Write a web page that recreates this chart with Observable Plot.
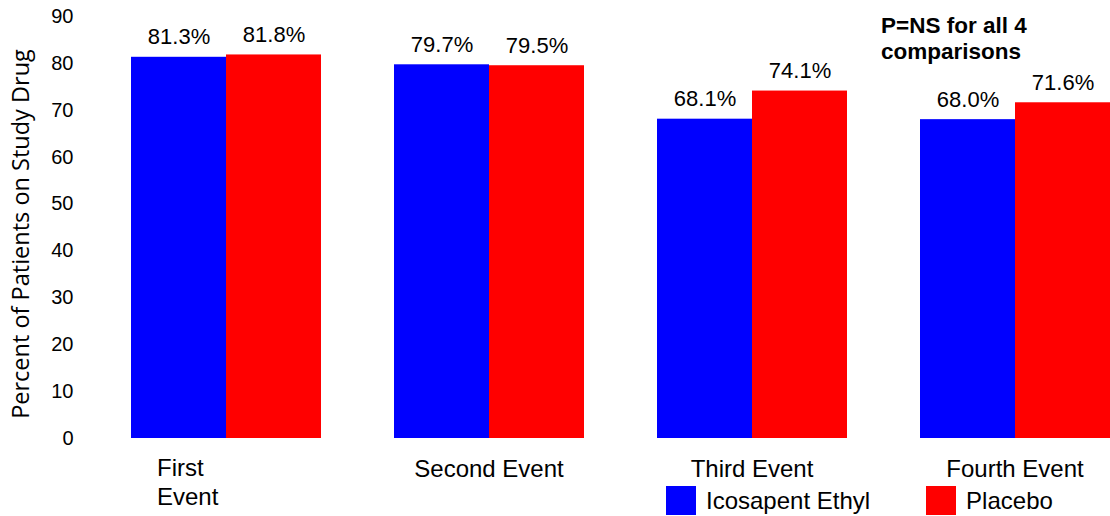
<!DOCTYPE html>
<html>
<head>
<meta charset="utf-8">
<script src="https://cdn.jsdelivr.net/npm/d3@7"></script>
<script src="https://cdn.jsdelivr.net/npm/@observablehq/plot@0.6"></script>
<style>
  html, body { margin: 0; padding: 0; background: #fff; }
  #wrap { position: relative; width: 1110px; height: 516px; font-family: "Liberation Sans", Arial, sans-serif; color: #000; }
  #note { position: absolute; left: 881px; top: 13px; font-size: 22.5px; font-weight: bold; line-height: 26px; }
  #ylabel { position: absolute; left: 20px; top: 234px; transform: translate(-50%, -50%) rotate(-90deg);
            white-space: nowrap; font-family: "Open Sans", "Noto Sans", sans-serif; font-size: 23.5px; }
  #legend { position: absolute; left: 666px; top: 486px; display: flex; align-items: center; font-size: 24px; }
  .sw { display: inline-block; width: 30px; height: 29px; margin-right: 10px; }
  .item { display: flex; align-items: center; }
</style>
</head>
<body>
<div id="wrap">
  <div id="chart"></div>
  <div id="ylabel">Percent of Patients on Study Drug</div>
  <div id="note">P=NS for all 4<br>comparisons</div>
  <div id="legend"></div>
</div>
<script>
// Event categories and their axis labels
const categories = ["First Event", "Second Event", "Third Event", "Fourth Event"];
const categoryLabels = ["First\nEvent", "Second Event", "Third Event", "Fourth Event"];

// Treatment arms
const seriesNames = ["Icosapent Ethyl", "Placebo"];
const seriesColors = ["#0000ff", "#ff0000"];

// Percent of patients on study drug, per event
const icosapentEthyl = [81.3, 79.7, 68.1, 68.0];
const placebo = [81.8, 79.5, 74.1, 71.6];

// Y-axis ticks
const yTicks = [0, 10, 20, 30, 40, 50, 60, 70, 80, 90];

const rows = categories.flatMap((c, i) => [
  {event: c, arm: seriesNames[0], value: icosapentEthyl[i]},
  {event: c, arm: seriesNames[1], value: placebo[i]}
]);
const labelRows = categories.map((c, i) => ({event: c, label: categoryLabels[i]}));

const chart = Plot.plot({
  width: 1110,
  height: 516,
  marginTop: 16,
  marginBottom: 78,
  marginLeft: 130,
  marginRight: 0,
  style: {fontFamily: "Liberation Sans, Arial, sans-serif", color: "#000", background: "#fff"},
  fx: {domain: categories, paddingInner: 0.275, paddingOuter: 0, axis: null},
  x: {domain: seriesNames, padding: 0, axis: null},
  y: {domain: [0, 90], axis: null},
  color: {domain: seriesNames, range: seriesColors},
  marks: [
    Plot.axisY({ticks: yTicks, tickSize: 0, tickPadding: 57, fontSize: 20, label: null}),
    Plot.barY(rows, {fx: "event", x: "arm", y: "value", fill: "arm"}),
    // value labels above each bar
    Plot.text(rows, {
      fx: "event", x: "arm", y: "value",
      text: d => d.value.toFixed(1) + "%",
      dy: -20, fontSize: 22, fill: "#000"
    }),
    // category labels below the bars
    Plot.text(labelRows.filter(d => !d.label.includes("\n")), {
      fx: "event", text: "label", frameAnchor: "bottom",
      lineAnchor: "top", dy: 21, fontSize: 24, fill: "#000"
    }),
    Plot.text(labelRows.filter(d => d.label.includes("\n")), {
      fx: "event", text: "label", frameAnchor: "bottom", textAnchor: "start",
      lineAnchor: "top", dy: 18, dx: -69, lineHeight: 1.17, fontSize: 24, fill: "#000"
    })
  ]
});
document.getElementById("chart").appendChild(chart);

// Legend
const legend = document.getElementById("legend");
seriesNames.forEach((name, i) => {
  const item = document.createElement("div");
  item.className = "item";
  if (i > 0) item.style.marginLeft = "56px";
  const sw = document.createElement("span");
  sw.className = "sw";
  sw.style.background = seriesColors[i];
  const label = document.createElement("span");
  label.textContent = name;
  item.appendChild(sw);
  item.appendChild(label);
  legend.appendChild(item);
});
</script>
</body>
</html>
